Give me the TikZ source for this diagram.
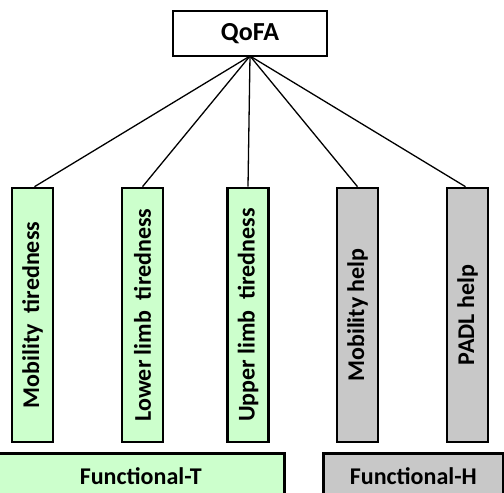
\documentclass[tikz,border=0pt]{standalone}
\usepackage{fontspec}
\setmainfont{Carlito}
\definecolor{lgreen}{RGB}{204,255,204}
\definecolor{lgray}{RGB}{200,200,200}
\begin{document}
\begin{tikzpicture}[x=1pt,y=-1pt,
  topbox/.style={draw=black,line width=2.6pt,fill=white,minimum width=154pt,minimum height=45pt,inner sep=0pt,font=\fontsize{26}{26}\selectfont\bfseries},
  tallbox/.style={draw=black,line width=2.6pt,minimum width=41pt,minimum height=254pt,inner sep=0pt,font=\fontsize{24}{24}\selectfont\bfseries},
  greenbox/.style={tallbox,fill=lgreen},
  graybox/.style={tallbox,fill=lgray},
  groupbox/.style={draw=black,line width=2.6pt,minimum height=46pt,inner sep=0pt,font=\fontsize{24}{24}\selectfont\bfseries},
  link/.style={draw=black,line width=1.3pt}]
\useasboundingbox (0,0) rectangle (504,493);
\clip (0,0) rectangle (504,493);
\node[topbox] (q) at (250,33.5) {QoFA};
\coordinate (apex) at (250,56);
\node[greenbox] (m1) at (32.5,315) {\rotatebox{90}{Mobility\ \ tiredness}};
\node[greenbox] (m2) at (142.5,315) {\rotatebox{90}{Lower limb\ \ tiredness}};
\node[greenbox] (m3) at (248,315) {\rotatebox{90}{Upper limb\ \ tiredness}};
\node[graybox] (m4) at (357.5,315) {\rotatebox{90}{Mobility help}};
\node[graybox] (m5) at (467.5,315) {\rotatebox{90}{PADL help}};
\node[groupbox,fill=lgreen,minimum width=287pt,anchor=north west] (ft) at (-4,452) {\raisebox{-3pt}{Functional-T}};
\node[groupbox,fill=lgray,minimum width=180pt,anchor=north west] (fh) at (322,452) {\raisebox{-3pt}{Functional-H}};
\draw[link] (apex) -- ([xshift=2pt]m1.north);
\draw[link] (apex) -- (m2.north);
\draw[link] (apex) -- (m3.north);
\draw[link] (apex) -- (m4.north);
\draw[link] (apex) -- ([xshift=-2pt]m5.north);
\end{tikzpicture}
\end{document}
